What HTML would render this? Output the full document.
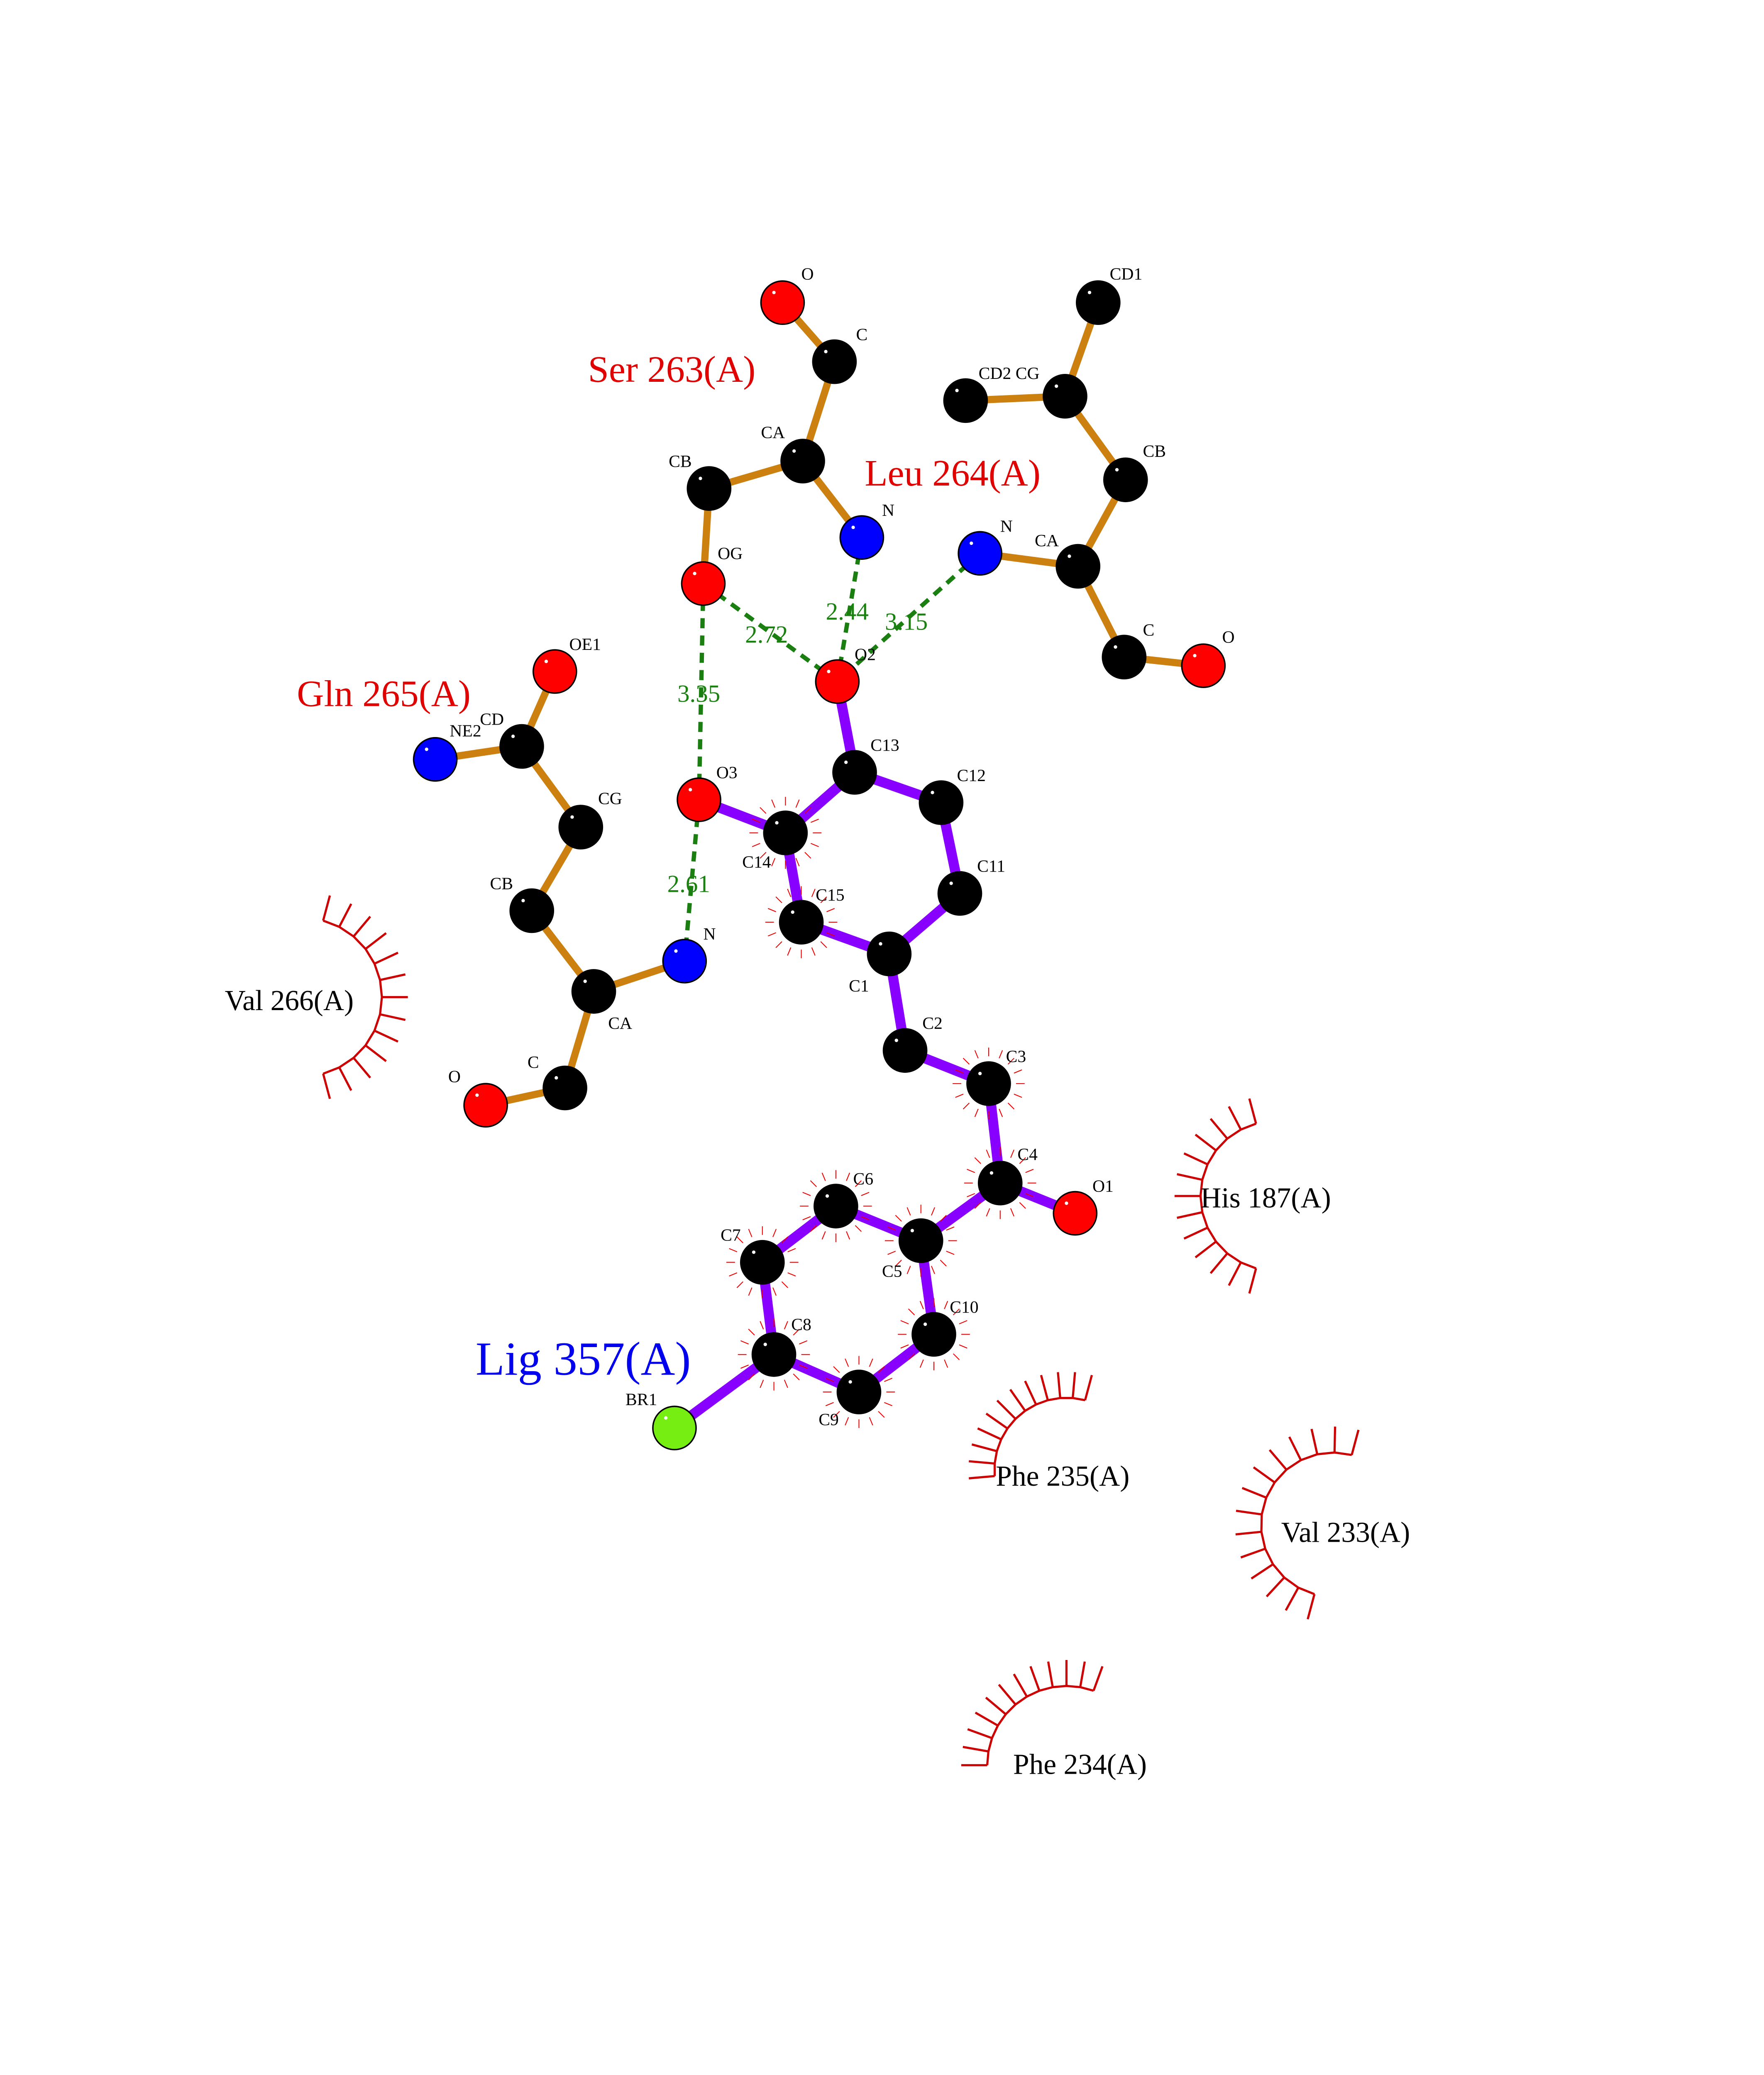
<!DOCTYPE html>
<html><head><meta charset="utf-8"><style>
html,body{margin:0;padding:0;background:#fff;width:4250px;height:5500px;overflow:hidden;}
svg{display:block;}
text{font-family:"Liberation Serif",serif;}
</style></head><body>
<svg id="s" width="4250" height="5500" viewBox="0 0 1224 1584" preserveAspectRatio="none" xmlns="http://www.w3.org/2000/svg">
<g id="bonds"></g><g id="hb"></g><g id="hyd"></g><g id="atoms"></g><g id="txt"></g>
</svg>
<script>
const NS="http://www.w3.org/2000/svg";
function el(p,t,a,txt){const e=document.createElementNS(NS,t);for(const k in a)e.setAttribute(k,a[k]);if(txt!==undefined)e.textContent=txt;document.getElementById(p).appendChild(e);return e;}
const A={
sO:[543,210,'r'],sC:[579,251,'k'],sCA:[557,320,'k'],sCB:[492,339,'k'],sOG:[488,405,'r'],sN:[598,373,'b'],
lCD1:[762,210,'k'],lCG:[739,275,'k'],lCD2:[670,278,'k'],lCB:[781,333,'k'],lCA:[748,393,'k'],lN:[680,384,'b'],lC:[780,456,'k'],lO:[835,462,'r'],
gOE1:[385,466,'r'],gCD:[362,518,'k'],gNE2:[302,527,'b'],gCG:[403,574,'k'],gCB:[369,632,'k'],gCA:[412,688,'k'],gN:[475,667,'b'],gC:[392,755,'k'],gO:[337,767,'r'],
O2:[581,473,'r'],C13:[593,536,'k'],C12:[653,557,'k'],C11:[666,620,'k'],C1:[617,662,'k'],C15:[556,640,'k'],C14:[545,578,'k'],O3:[485,555,'r'],
C2:[628,729,'k'],C3:[686,752,'k'],C4:[694,821,'k'],O1:[746,842,'r'],C5:[639,861,'k'],C6:[580,837,'k'],C7:[529,876,'k'],C8:[537,940,'k'],C9:[596,966,'k'],C10:[648,926,'k'],BR1:[468,991,'g']};
const col={r:'#ff0000',k:'#000',b:'#0000ff',g:'#77ee11'};
const ob=[['sO','sC'],['sC','sCA'],['sCA','sCB'],['sCB','sOG'],['sCA','sN'],['lCD1','lCG'],['lCG','lCD2'],['lCG','lCB'],['lCB','lCA'],['lCA','lN'],['lCA','lC'],['lC','lO'],['gOE1','gCD'],['gCD','gNE2'],['gCD','gCG'],['gCG','gCB'],['gCB','gCA'],['gCA','gN'],['gCA','gC'],['gC','gO']];
const pb=[['O2','C13'],['C13','C12'],['C12','C11'],['C11','C1'],['C1','C15'],['C15','C14'],['C14','C13'],['C14','O3'],['C1','C2'],['C2','C3'],['C3','C4'],['C4','O1'],['C4','C5'],['C5','C6'],['C6','C7'],['C7','C8'],['C8','C9'],['C9','C10'],['C10','C5'],['C8','BR1']];
ob.forEach(b=>{const a=A[b[0]],c=A[b[1]];el('bonds','line',{x1:a[0],y1:a[1],x2:c[0],y2:c[1],stroke:'#cc8010','stroke-width':5});});
pb.forEach(b=>{const a=A[b[0]],c=A[b[1]];el('bonds','line',{x1:a[0],y1:a[1],x2:c[0],y2:c[1],stroke:'#8800ff','stroke-width':7});});
[['sOG','O2'],['sN','O2'],['lN','O2'],['sOG','O3'],['O3','gN']].forEach(b=>{const a=A[b[0]],c=A[b[1]];el('hb','line',{x1:a[0],y1:a[1],x2:c[0],y2:c[1],stroke:'#1a7f10','stroke-width':3,'stroke-dasharray':'7,5'});});
['C14','C15','C3','C6','C8','C9','C10','C4','C5','C7'].forEach(k=>{const a=A[k];for(let i=0;i<16;i++){const t=i*Math.PI/8;el('hyd','line',{x1:a[0]+19*Math.cos(t),y1:a[1]+19*Math.sin(t),x2:a[0]+25*Math.cos(t),y2:a[1]+25*Math.sin(t),stroke:'#e00','stroke-width':0.6});}});
function arc(cx,cy,r,a0,a1,n){const p=[];for(let i=0;i<=n;i++){const t=(a0+(a1-a0)*i/n)*Math.PI/180;const x=cx+r*Math.cos(t),y=cy+r*Math.sin(t);p.push(x+','+y);el('hyd','line',{x1:x,y1:y,x2:cx+(r+18)*Math.cos(t),y2:cy+(r+18)*Math.sin(t),stroke:'#cc0000','stroke-width':1.5});}el('hyd','polyline',{points:p.join(' '),fill:'none',stroke:'#cc0000','stroke-width':1.5});}
arc(210,692,55,-75,75,12);
arc(885,830,52,105,255,12);
arc(740,1020,50,175,285,11);
arc(925,1058,50,105,285,13);
arc(740,1225,55,180,290,11);
for(const k in A){const a=A[k];el('atoms','circle',{cx:a[0],cy:a[1],r:15,fill:col[a[2]],stroke:'#000','stroke-width':1});el('atoms','circle',{cx:a[0]-6,cy:a[1]-7,r:1.2,fill:'#fff'});}
function T(x,y,s,sz,c){el('txt','text',{x:x,y:y,'font-size':sz,fill:c||'#000'},s);}
[['O',556,194],['C',594,236],['CA',528,304],['CB',464,324],['OG',498,388],['N',612,358],['CD1',770,194],['CD2 CG',679,263],['CB',793,317],['N',694,369],['CA',718,379],['C',793,441],['O',848,446],
['OE1',395,451],['CD',333,503],['NE2',312,511],['CG',415,558],['CB',340,617],['CA',422,714],['N',488,652],['C',366,741],['O',311,751],
['O2',593,458],['C13',604,521],['C12',664,542],['C11',678,605],['C1',589,688],['C15',566,625],['C14',515,602],['O3',497,540],
['C2',640,714],['C3',698,737],['C4',706,805],['O1',758,827],['C5',612,886],['C6',592,822],['C7',500,861],['C8',549,923],['C9',568,989],['C10',659,911],['BR1',434,975]].forEach(t=>T(t[1],t[2],t[0],12));
T(408,265,'Ser 263(A)',26,'#e00000');T(600,337,'Leu 264(A)',26,'#e00000');T(206,490,'Gln 265(A)',26,'#e00000');
T(330,954,'Lig 357(A)',33,'#0000ee');
[['2.72',517,446],['2.44',573,430],['3.15',614,437],['3.35',470,487],['2.61',463,619]].forEach(t=>T(t[1],t[2],t[0],17,'#1a8010'));
T(156,701,'Val 266(A)',20);T(833,838,'His 187(A)',20);T(691,1031,'Phe 235(A)',20);T(889,1070,'Val 233(A)',20);T(703,1231,'Phe 234(A)',20);
T(58,1470,'.',14);
</script>
</body></html>
